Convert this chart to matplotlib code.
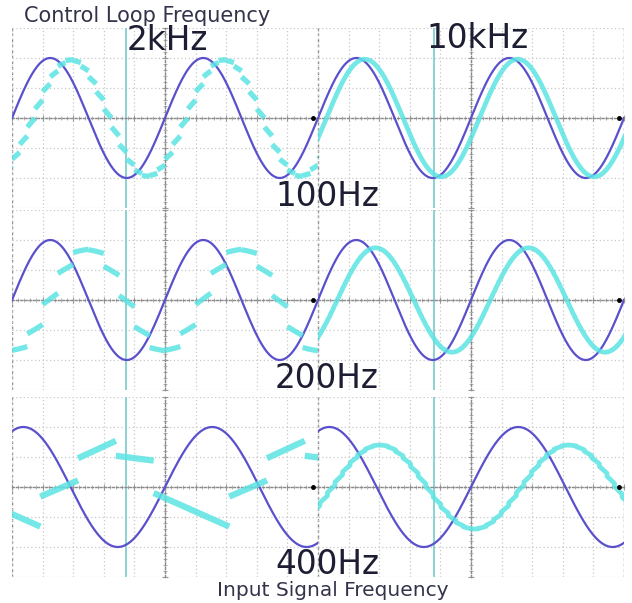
import numpy as np
import matplotlib.pyplot as plt
from matplotlib.ticker import MultipleLocator

# column / row headings
control_loop = ["2kHz", "10kHz"]
control_hz = [2000, 10000]
input_signal = ["100Hz", "200Hz", "400Hz"]
input_hz = [100, 200, 400]
ms_per_div = [2.0, 1.0, 0.405]

ref_amp = 2.0  # reference sine amplitude, in divisions

# output trace (rows = input freq, cols = loop freq)
out_gain = [[0.97, 0.98], [0.86, 0.87], [None, 0.70]]
out_lag_deg = [[45, 20], [77, 45], [None, 94]]
out_slope = [[0.5, 1.0], [0.35, 0.9], [None, 0.7]]
out_broken = [[True, False], [True, False], [True, False]]

# 400Hz input at 2kHz loop: five pieces per period, start/end level
# as fraction of the reference amplitude, first piece begins at phase 0.14
bl_phase0 = 0.14
bl_start = [-0.38, -0.16, 0.48, 0.52, -0.10]
bl_end = [-0.66, 0.11, 0.77, 0.44, -0.38]

cursor_div = [-1.27, -1.2]

BLUE = '#5a50cc'
CYAN = '#5ce3e3'
TXT = '#1d1d33'


def held_wave(period_div, n_per_period, gain, lag_deg, slope, broken):
    ts = period_div / n_per_period
    xs, ys = [], []
    for k in range(int(np.floor(-5 / ts)) - 1, int(np.ceil(5 / ts)) + 1):
        tk = k * ts
        tt = np.linspace(tk, tk + ts, 10)
        ph = 2 * np.pi * (tk + slope * (tt - tk)) / period_div - np.radians(lag_deg)
        xs += list(tt)
        ys += list(gain * ref_amp * np.sin(ph))
        if broken:
            xs.append(np.nan)
            ys.append(np.nan)
    return np.array(xs), np.array(ys)


def piece_wave(period_div):
    xs, ys = [], []
    for cycle in range(-3, 3):
        for i in range(len(bl_start)):
            p0 = cycle + bl_phase0 + i / len(bl_start)
            tt = np.linspace(p0, p0 + 1 / len(bl_start), 10) * period_div
            yy = ref_amp * np.linspace(bl_start[i], bl_end[i], 10)
            xs += list(tt) + [np.nan]
            ys += list(yy) + [np.nan]
    return np.array(xs), np.array(ys)


fig = plt.figure(figsize=(6.32, 6.03), dpi=100)
fig.patch.set_facecolor('white')

col_left = [12, 318]
col_w = 306
row_top = [28, 210, 397]
row_h = 180
W, H = 632, 603

for r in range(3):
    period_div = (1000.0 / input_hz[r]) / ms_per_div[r]
    for c in range(2):
        ax = fig.add_axes([col_left[c] / W, 1 - (row_top[r] + row_h) / H,
                           col_w / W, row_h / H])
        ax.set_facecolor('none')
        ax.set_xlim(-5, 5)
        ax.set_ylim(-3, 3)
        ax.xaxis.set_major_locator(MultipleLocator(1))
        ax.yaxis.set_major_locator(MultipleLocator(1))
        ax.xaxis.set_minor_locator(MultipleLocator(0.2))
        ax.yaxis.set_minor_locator(MultipleLocator(0.2))
        ax.grid(True, which='major', color='#c8c8c8', lw=0.9, ls=(0, (1, 2)))
        for s in ['top', 'right']:
            ax.spines[s].set_visible(False)
        for s in ['left', 'bottom']:
            ax.spines[s].set_position(('data', 0))
            ax.spines[s].set_color('#8a8a8a')
            ax.spines[s].set_linewidth(1.0)
            ax.spines[s].set_linestyle((0, (1.5, 1.5)))
        ax.tick_params(which='major', direction='inout', length=5, width=0.8,
                       color='#9a9a9a', labelbottom=False, labelleft=False)
        ax.tick_params(which='minor', direction='inout', length=3, width=0.6,
                       color='#a8a8a8')
        for xe in (-5, 5):
            ax.axvline(xe, color='#8a8a8a', lw=1.0, ls=(0, (2, 2)), zorder=1)

        ax.axvline(cursor_div[c], color='#8ad2d2', lw=1.4, zorder=2)

        t = np.linspace(-5, 5, 800)
        ax.plot(t, ref_amp * np.sin(2 * np.pi * t / period_div),
                color=BLUE, lw=1.6, zorder=3)

        if out_gain[r][c] is None:
            xs, ys = piece_wave(period_div)
            lw = 4.5
        else:
            n = control_hz[c] / input_hz[r]
            xs, ys = held_wave(period_div, n, out_gain[r][c], out_lag_deg[r][c],
                               out_slope[r][c], out_broken[r][c])
            lw = 3.8 if out_broken[r][c] else 3.4
        ax.plot(xs, ys, color=CYAN, lw=lw, alpha=0.85, zorder=4,
                solid_capstyle='butt')

        ax.plot(4.85, 0, 'o', ms=2.5, color='black', zorder=5)

fig.text(24 / W, 1 - 16 / H, "Control Loop Frequency", fontsize=15,
         color='#33334a', ha='left', va='center')
fig.text(167 / W, 1 - 40 / H, control_loop[0], fontsize=23.5, color=TXT,
         ha='center', va='center')
fig.text(477 / W, 1 - 38 / H, control_loop[1], fontsize=23.5, color=TXT,
         ha='center', va='center')
label_y = [196, 379, 565]
for r in range(3):
    fig.text(327 / W, 1 - label_y[r] / H, input_signal[r], fontsize=23.5,
             color=TXT, ha='center', va='center')
fig.text(333 / W, 1 - 590 / H, "Input Signal Frequency", fontsize=14.5,
         color='#33334a', ha='center', va='center')

fig.savefig('out.png', dpi=100, facecolor='white')
